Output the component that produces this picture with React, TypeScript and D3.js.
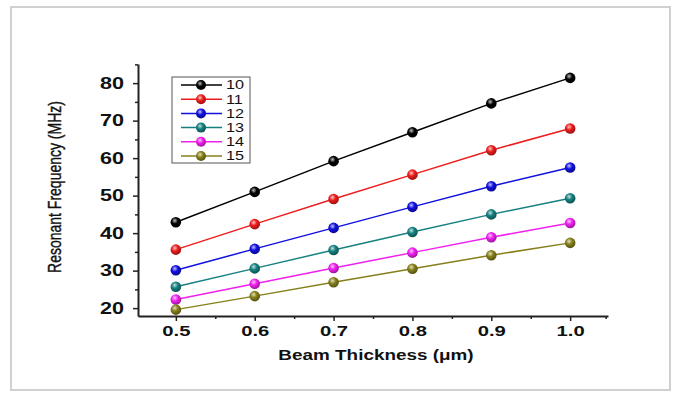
import React, { useEffect, useRef } from 'react';
import * as d3 from 'd3';

const thickness = [0.5, 0.6, 0.7, 0.8, 0.9, 1.0];
const seriesNames = ['10', '11', '12', '13', '14', '15'];
const seriesColors = ['#000000', '#ee1c1c', '#1010e0', '#168080', '#f020f0', '#85801a'];
const freq10 = [42.9, 51.0, 59.2, 66.9, 74.6, 81.4];
const freq11 = [35.6, 42.4, 49.1, 55.6, 62.1, 67.9];
const freq12 = [30.1, 35.8, 41.4, 47.0, 52.5, 57.5];
const freq13 = [25.7, 30.6, 35.5, 40.3, 45.0, 49.3];
const freq14 = [22.3, 26.5, 30.7, 34.8, 38.9, 42.7];
const freq15 = [19.6, 23.2, 26.9, 30.5, 34.1, 37.4];
const allSeries = [freq10, freq11, freq12, freq13, freq14, freq15];
const xTicks = [0.5, 0.6, 0.7, 0.8, 0.9, 1.0];
const yTicks = [20, 30, 40, 50, 60, 70, 80];

const App = () => {
  const svgRef = useRef<SVGSVGElement>(null);

  useEffect(() => {
    const W = 675, H = 393;
    const left = 138, right = 608, top = 64, bottom = 316;
    const stretch = 1.35; // the picture is stretched sideways

    const x = d3.scaleLinear().domain([0.452, 1.048]).range([left, right]);
    const y = d3.scaleLinear().domain([17.9, 85.1]).range([bottom, top]);

    const svg = d3.select(svgRef.current).attr('width', W).attr('height', H);
    svg.selectAll('*').remove();

    // outer frame
    svg.append('rect')
      .attr('x', 11).attr('y', 7).attr('width', 659).attr('height', 383)
      .attr('fill', 'white').attr('stroke', '#d0d0d0').attr('stroke-width', 2);

    // sphere gradients
    const defs = svg.append('defs');
    seriesColors.forEach((c, i) => {
      const g = defs.append('radialGradient').attr('id', 'ball' + i)
        .attr('cx', '40%').attr('cy', '35%').attr('r', '65%');
      g.append('stop').attr('offset', '0%').attr('stop-color', d3.interpolateRgb(c, '#fff')(0.75));
      g.append('stop').attr('offset', '45%').attr('stop-color', c);
      g.append('stop').attr('offset', '100%').attr('stop-color', d3.interpolateRgb(c, '#000')(0.35));
    });

    const font = 'Liberation Sans, Arial, sans-serif';

    // x axis
    const xAxis = svg.append('g').attr('transform', `translate(0,${bottom})`)
      .call(d3.axisBottom(x).tickValues(xTicks).tickFormat(d3.format('.1f')).tickSize(5).tickSizeOuter(0));
    xAxis.selectAll('text')
      .attr('font-family', font).attr('font-size', 15).attr('font-weight', 'bold')
      .attr('y', 9).attr('dy', '0.71em').attr('fill', '#111')
      .attr('transform', `scale(${stretch},1)`);
    svg.append('g').attr('transform', `translate(0,${bottom})`)
      .call(d3.axisBottom(x).tickValues([0.55, 0.65, 0.75, 0.85, 0.95, 1.045]).tickSize(3).tickFormat(() => '').tickSizeOuter(0))
      .select('.domain').remove();

    // y axis
    const yAxis = svg.append('g').attr('transform', `translate(${left},0)`)
      .call(d3.axisLeft(y).tickValues(yTicks).tickSize(5).tickSizeOuter(0));
    yAxis.selectAll('text')
      .attr('font-family', font).attr('font-size', 16).attr('font-weight', 'bold').attr('fill', '#111')
      .attr('x', -14 / stretch).attr('transform', `scale(${stretch},1)`);
    svg.append('g').attr('transform', `translate(${left},0)`)
      .call(d3.axisLeft(y).tickValues([25, 35, 45, 55, 65, 75, 85]).tickSize(3).tickFormat(() => '').tickSizeOuter(0))
      .select('.domain').remove();
    svg.selectAll('.domain').attr('stroke', '#222').attr('stroke-width', 2);
    svg.selectAll('.tick line').attr('stroke', '#222').attr('stroke-width', 1.5);

    // axis titles
    svg.append('text')
      .attr('transform', `translate(${(left + right) / 2 + 3},360) scale(${stretch},1)`)
      .attr('text-anchor', 'middle').attr('font-family', font).attr('font-size', 14).attr('font-weight', 'bold')
      .attr('fill', '#111').text('Beam Thickness (\u03bcm)');
    svg.append('text')
      .attr('transform', `translate(61,187) rotate(-90) scale(1,${stretch})`)
      .attr('text-anchor', 'middle').attr('font-family', font)
      .attr('font-size', 14).attr('fill', '#111').attr('stroke', '#111').attr('stroke-width', 0.3)
      .text('Resonant Frequency (MHz)');

    // series
    const line = d3.line<number>().x((d, i) => x(thickness[i])).y(d => y(d));
    allSeries.forEach((vals, si) => {
      svg.append('path').datum(vals)
        .attr('fill', 'none').attr('stroke', seriesColors[si]).attr('stroke-width', 1.5)
        .attr('d', line);
      svg.append('g').selectAll('circle').data(vals).join('circle')
        .attr('cx', (d, i) => x(thickness[i])).attr('cy', d => y(d)).attr('r', 5.3)
        .attr('fill', `url(#ball${si})`);
    });

    // legend
    const lg = svg.append('g');
    lg.append('rect').attr('x', 172).attr('y', 77).attr('width', 78).attr('height', 86)
      .attr('fill', 'white').attr('stroke', '#555').attr('stroke-width', 1);
    seriesNames.forEach((name, i) => {
      const ly = 85 + i * 14.2;
      lg.append('line').attr('x1', 181).attr('x2', 222).attr('y1', ly).attr('y2', ly)
        .attr('stroke', seriesColors[i]).attr('stroke-width', 1.5);
      lg.append('circle').attr('cx', 201).attr('cy', ly).attr('r', 5).attr('fill', `url(#ball${i})`);
      lg.append('text')
        .attr('transform', `translate(226,${ly}) scale(${stretch},1)`).attr('dy', '0.36em')
        .attr('font-family', font).attr('font-size', 12).attr('fill', '#111').text(name);
    });
  }, []);

  return (
    <svg ref={svgRef} style={{ position: 'absolute', left: 0, top: 0 }}></svg>
  );
};

export default App;
